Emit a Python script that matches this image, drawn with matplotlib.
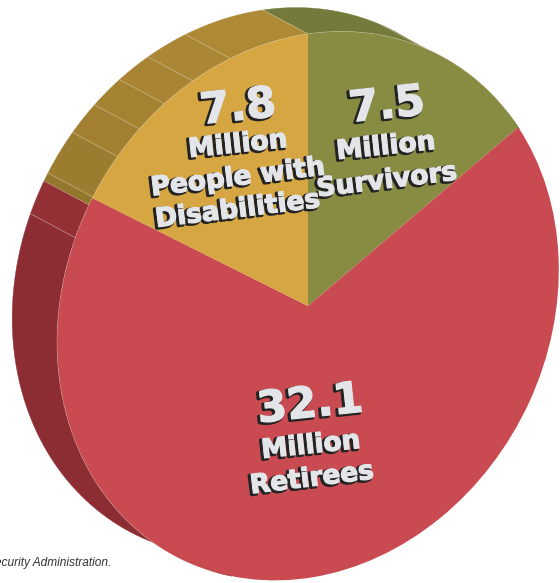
"""Social Security beneficiaries as a tilted, extruded pie."""
import matplotlib
matplotlib.use('Agg')
import matplotlib.pyplot as plt
import matplotlib.patheffects as pe
from matplotlib.transforms import Affine2D
import numpy as np

# --- data
categories = ['Survivors', 'Retirees', 'People with\nDisabilities']
values = [7.5, 32.1, 7.8]
value_labels = ['7.5', '32.1', '7.8']

# colours
TOP_COLORS = ['#888C42', '#C94A50', '#D5A642']
TEXT_GREY = '#E4E5E8'
SHADOW = '#232323'
SEAM = '#E8DDB8'

# tilt of the pie: unit circle -> canvas pixels (y up)
CX, CY = 308, 277
XX, XY, YY = 248.6, 33.2, 274.4
DEPTH = (-45, 24)
START = 97.6

# wall facets, angle on the unit circle, running anticlockwise
facet_edges = [40, 69.4, 97.6, 115.6, 124.9, 132.5, 139.8, 147, 156.6, 158.4, 165.6, 260]
facet_colors = ['#6C7136', '#747A3B', '#AE8A37', '#AB8735', '#A88434', '#A58232', '#A27F31',
                '#9C7C2F', '#93772C', '#933036', '#8C2D34']


def circle_pts(a1, a2, n=60):
    t = np.radians(np.linspace(a1, a2, n))
    u, v = np.cos(t), np.sin(t)
    return CX + XX * u + XY * v, CY + YY * v


fig = plt.figure(figsize=(5.6, 5.83), dpi=100)
fig.patch.set_facecolor('white')
ax = fig.add_axes([0, 0, 1, 1])

# top face, drawn by pie then sheared onto the tilted ellipse
wedges, _ = ax.pie(values, colors=TOP_COLORS, startangle=START, counterclock=False, radius=1)
tilt = Affine2D().from_values(XX, 0, XY, YY, CX, CY) + ax.transData
for w in wedges:
    w.set_transform(tilt)
    w.set_zorder(3)
    w.set_edgecolor('none')

ax.set_aspect('auto')
ax.set_xlim(0, 560)
ax.set_ylim(0, 583)
ax.axis('off')

# side wall, one quad strip per facet
for i, c in enumerate(facet_colors):
    x, y = circle_pts(facet_edges[i], facet_edges[i + 1])
    px = np.concatenate([x, x[::-1] + DEPTH[0]])
    py = np.concatenate([y, y[::-1] + DEPTH[1]])
    ax.fill(px, py, color=c, lw=0.3, zorder=1)

# thin seams between facets
for a in facet_edges[1:-1]:
    x, y = circle_pts(a, a, 1)
    ax.plot([x[0], x[0] + DEPTH[0]], [y[0], y[0] + DEPTH[1]], color=SEAM, lw=0.5, alpha=0.55, zorder=2)

# light rim where the wall meets the top face
x, y = circle_pts(45, 255, 200)
ax.plot(x, y, color='#F3E6D0', lw=0.6, alpha=0.7, zorder=2.5)


def label(x, y, s, size, rot):
    effects = [
        pe.Stroke(linewidth=2.4, foreground=SHADOW, offset=(-1.4, -1.0)),
        pe.Stroke(linewidth=0.9, foreground=TEXT_GREY),
        pe.Normal(),
    ]
    ax.text(x, y, s, color=TEXT_GREY, fontsize=size, rotation=rot, rotation_mode='anchor',
            ha='center', va='center', weight='bold', zorder=5,
            family=['Liberation Sans Narrow', 'DejaVu Sans'], path_effects=effects)


# slice captions
label(387, 583 - 106, value_labels[0], 31, 6)
label(386, 583 - 147, 'Million', 19, 6)
label(387, 583 - 181, categories[0], 19, 7)

label(310, 583 - 405, value_labels[1], 31, 6)
label(311, 583 - 446, 'Million', 19, 6)
label(312, 583 - 479, categories[1], 19, 7)

label(238, 583 - 108, value_labels[2], 31, 6)
label(238, 583 - 145, 'Million', 19, 6)
people, disabled = categories[2].split('\n')
label(238, 583 - 178, people, 19, 7)
label(238, 583 - 210, disabled, 19, 7)

# source line runs off the left edge
ax.text(111, 583 - 563, 'Security Administration.', ha='right', va='center', fontsize=8.6,
        style='italic', color='#333333', family='Liberation Sans', zorder=5)

fig.savefig('out.png', dpi=100)
